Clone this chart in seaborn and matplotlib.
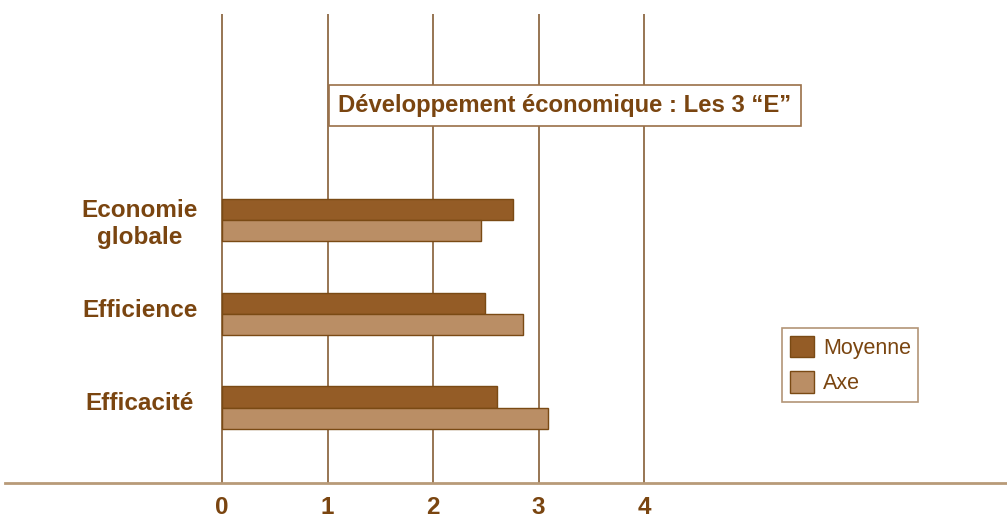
import pandas as pd
import matplotlib.pyplot as plt
import seaborn as sns

# données
categories = ['Economie\nglobale', 'Efficience', 'Efficacité']
moyenne = [2.76, 2.49, 2.61]
axe = [2.45, 2.85, 3.09]
series = ['Moyenne', 'Axe']
ticks = [0, 1, 2, 3, 4]

df = pd.DataFrame({
    'categorie': categories * 2,
    'serie': ['Moyenne'] * 3 + ['Axe'] * 3,
    'valeur': moyenne + axe,
})

brun_fonce = '#945C26'
brun_clair = '#BA8E65'
texte = '#7A4510'
grille = '#8F6A45'

sns.set_style('white')
plt.rcParams['font.family'] = ['Liberation Sans', 'DejaVu Sans']

fig = plt.figure(figsize=(10.07, 5.19), dpi=100)
ax = fig.add_axes([5 / 1007, 1 - 483 / 519, 1 - 5 / 1007, (483 - 14) / 519])

sns.barplot(data=df, x='valeur', y='categorie', hue='serie', orient='h',
            hue_order=series, palette=[brun_fonce, brun_clair], saturation=1,
            width=0.45, edgecolor='#7A4A14', linewidth=1, ax=ax, zorder=3)

ax.set_xlim(-2.057, 7.44)
ax.set_ylim(2.805, -2.197)
ax.set_xticks(ticks)
ax.set_xticklabels([str(t) for t in ticks], fontsize=17.5, fontweight='bold', color=texte)
ax.tick_params(axis='x', length=0, pad=9)
ax.set_yticks([])
ax.set_xlabel('')
ax.set_ylabel('')
ax.grid(axis='x', color=grille, linewidth=1.3, zorder=1)
ax.grid(axis='y', visible=False)

for s in ['top', 'right', 'left']:
    ax.spines[s].set_visible(False)
ax.spines['bottom'].set_color('#B89A78')
ax.spines['bottom'].set_linewidth(2)

# libellés des catégories
for i, cat in enumerate(categories):
    dy = 0.04 if '\n' in cat else -0.04
    ax.text(-0.78, i + dy, cat, ha='center', va='center', fontsize=17.5,
            fontweight='bold', color=texte, multialignment='center',
            linespacing=1.2)

# titre dans un cadre
ax.text(3.25, -1.22, 'Développement économique : Les 3 “E”', ha='center', va='center',
        fontsize=17.2, fontweight='bold', color=texte, zorder=5,
        bbox=dict(boxstyle='square,pad=0.38', facecolor='white', edgecolor='#9A7048', linewidth=1.2))

# légende
handles, labels = ax.get_legend_handles_labels()
ax.get_legend().remove()
leg = fig.legend(handles, labels, loc='upper left',
                 bbox_to_anchor=(782 / 1007, 1 - 328 / 519),
                 fontsize=15.5, frameon=True, fancybox=False,
                 handlelength=1.15, handleheight=1.15, handletextpad=0.4,
                 borderpad=0.35, labelspacing=0.6, borderaxespad=0)
leg.get_frame().set_edgecolor('#A07A55')
leg.get_frame().set_linewidth(1.2)
for t in leg.get_texts():
    t.set_color(texte)

fig.savefig('out.png', dpi=100)
